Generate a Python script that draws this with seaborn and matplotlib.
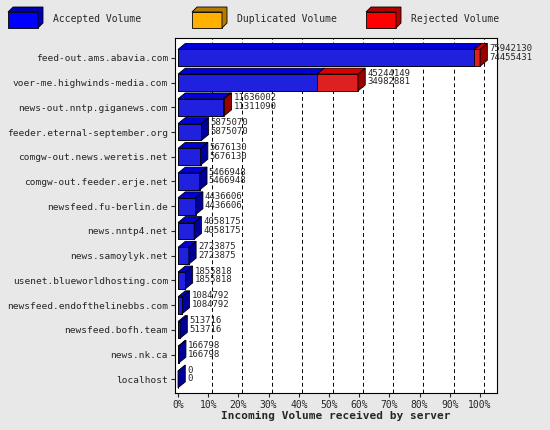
import matplotlib
matplotlib.use("Agg")
import matplotlib.pyplot as plt
import seaborn as sns
import pandas as pd
import numpy as np
from matplotlib.patches import Polygon, Rectangle

servers = ["feed-out.ams.abavia.com", "voer-me.highwinds-media.com", "news-out.nntp.giganews.com",
           "feeder.eternal-september.org", "comgw-out.news.weretis.net", "comgw-out.feeder.erje.net",
           "newsfeed.fu-berlin.de", "news.nntp4.net", "news.samoylyk.net", "usenet.blueworldhosting.com",
           "newsfeed.endofthelinebbs.com", "newsfeed.bofh.team", "news.nk.ca", "localhost"]
total = [75942130, 45244149, 11636002, 5875070, 5676130, 5466948, 4436606, 4058175, 2723875,
         1855818, 1084792, 513716, 166798, 0]
accepted = [74455431, 34982881, 11311090, 5875070, 5676130, 5466948, 4436606, 4058175, 2723875,
            1855818, 1084792, 513716, 166798, 0]
tick_labels = [f"{p}%" for p in range(0, 101, 10)]

mx = max(total)
df = pd.DataFrame({"server": servers,
                   "total_pct": [t / mx * 100 for t in total],
                   "acc_pct": [a / mx * 100 for a in accepted]})

sns.set_style("white")
plt.rcParams["font.family"] = ["DejaVu Sans Mono"]
fig = plt.figure(figsize=(5.5, 4.3), dpi=100, facecolor="#e8e8e8")
ax = fig.add_axes([175/550, 1-393/430, (497-175)/550, (393-38)/430])
ax.set_facecolor("white")

BLUE, RED, GOLD = "#0000ff", "#ff0000", "#ffb000"
W = 0.68
sns.barplot(data=df, y="server", x="total_pct", color=RED, orient="h", width=W,
            edgecolor="black", linewidth=0.6, ax=ax, zorder=3)
sns.barplot(data=df, y="server", x="acc_pct", color=BLUE, orient="h", width=W,
            edgecolor="black", linewidth=0.6, ax=ax, zorder=4)

dx, dy = 2.4, 0.24
def darker(c, f):
    from matplotlib.colors import to_rgb
    return tuple(v * f for v in to_rgb(c))

for i, (t, a) in enumerate(zip(df.total_pct, df.acc_pct)):
    y0, y1 = i + W/2, i - W/2
    segs = [(0, a, BLUE)]
    if t > a:
        segs.append((a, t, RED))
    for (x0, x1, c) in segs:
        ax.add_patch(Polygon([(x0, y1), (x0 + dx, y1 - dy), (x1 + dx, y1 - dy), (x1, y1)],
                             closed=True, facecolor=darker(c, 0.85), edgecolor="black", lw=0.6, zorder=5))
    ce = segs[-1][2]
    ax.add_patch(Polygon([(t, y1), (t + dx, y1 - dy), (t + dx, y0 - dy), (t, y0)],
                         closed=True, facecolor=darker(ce, 0.6), edgecolor="black", lw=0.6, zorder=5))
    ax.text(t + dx + 0.6, i - 0.2, f"{total[i]}\n{accepted[i]}", fontsize=6.5,
            va="center", ha="left", linespacing=0.95, zorder=6, clip_on=False)

ax.set_xlim(-1, 105.6)
ax.set_ylim(13.55, -0.8)
ax.set_xticks(range(0, 101, 10))
ax.set_xticklabels(tick_labels, fontsize=7)
ax.tick_params(axis="y", labelsize=6.8, length=3, left=True, pad=2)
ax.tick_params(axis="x", length=3, bottom=True, pad=2)
for x in range(10, 101, 10):
    ax.axvline(x + dx/2, color="black", ls=(0, (4, 3)), lw=0.7, zorder=1)
ax.set_ylabel("")
ax.set_xlabel("Incoming Volume received by server", fontsize=8, fontweight="bold", labelpad=1)
for s in ax.spines.values():
    s.set_color("black"); s.set_linewidth(0.8)

for lx, c, lab in [(8, BLUE, "Accepted Volume"), (192, GOLD, "Duplicated Volume"), (366, RED, "Rejected Volume")]:
    fx, fy = lx/550, 1 - 28/430
    fig.patches.append(Rectangle((fx, fy), 30/550, 16/430, transform=fig.transFigure,
                                 facecolor=c, edgecolor="black", lw=0.6))
    fig.patches.append(Polygon([(fx, fy + 16/430), (fx + 5/550, fy + 21/430), (fx + 35/550, fy + 21/430),
                                (fx + 35/550, fy + 5/430), (fx + 30/550, fy), (fx + 30/550, fy + 16/430)],
                               closed=True, transform=fig.transFigure, facecolor=darker(c, 0.7),
                               edgecolor="black", lw=0.6))
    fig.text(fx + 45/550, 1 - 19/430, lab, fontsize=7, va="center")

fig.savefig("out.png", dpi=100, facecolor=fig.get_facecolor())
